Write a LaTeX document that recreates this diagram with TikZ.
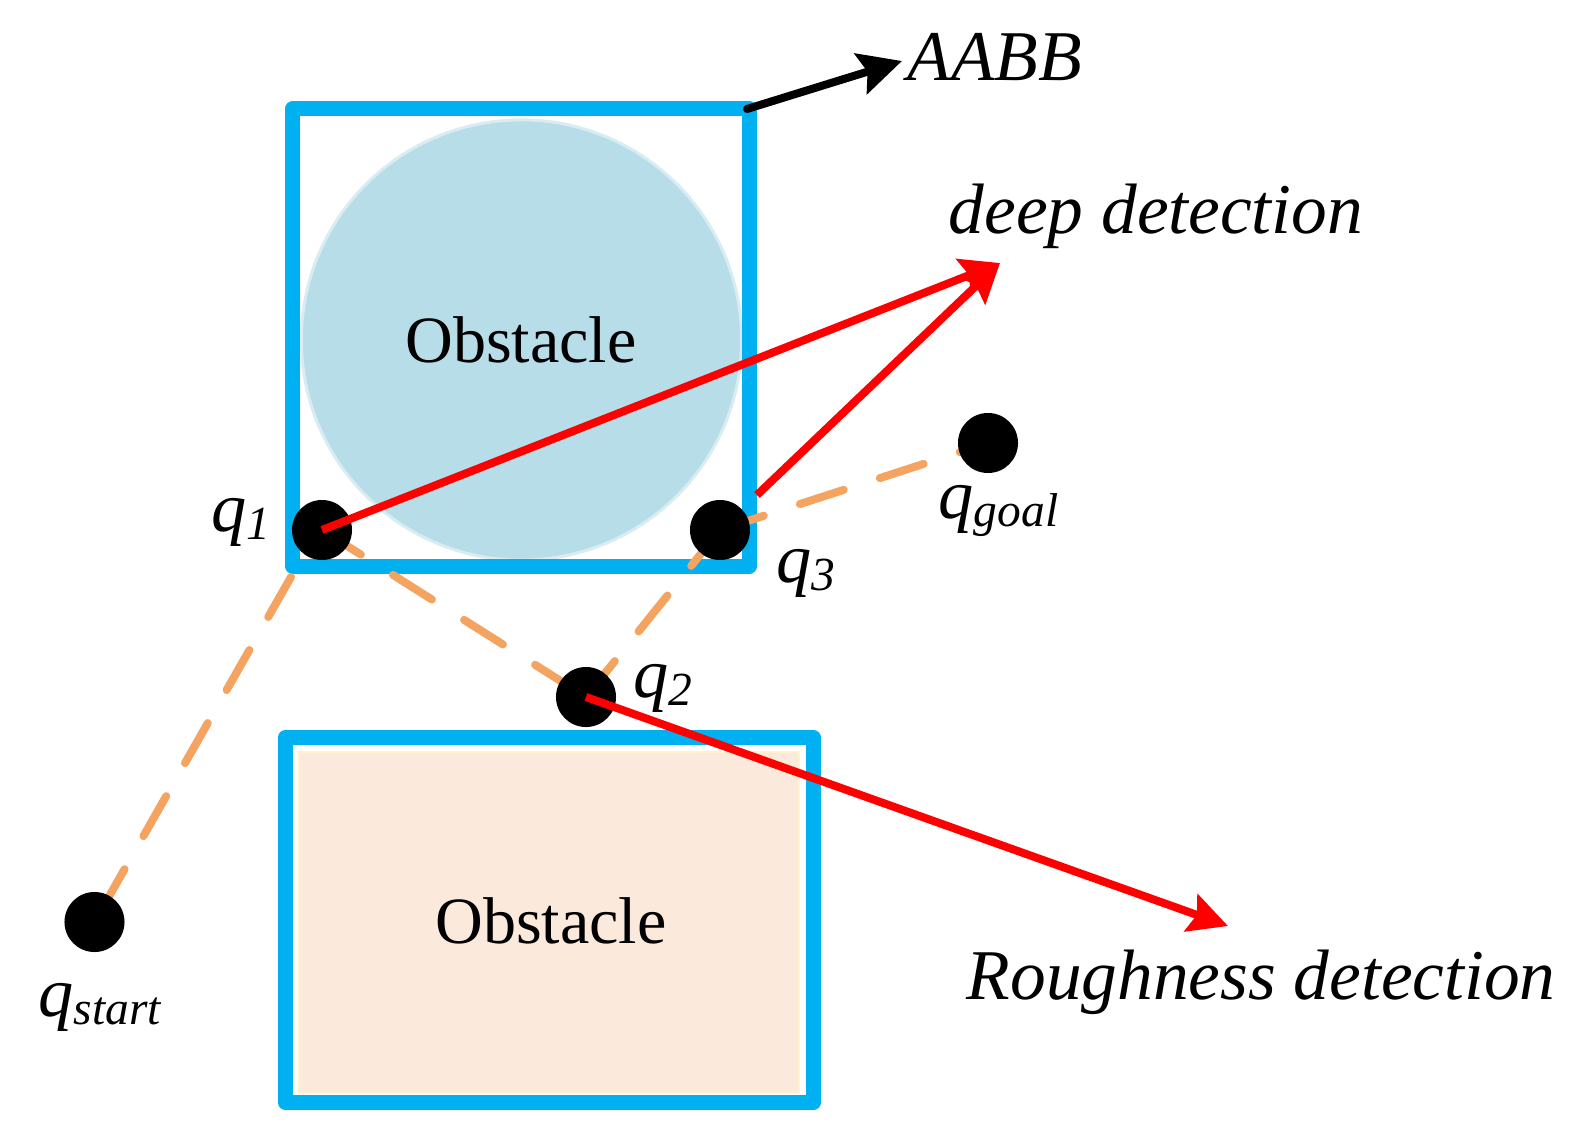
\documentclass[tikz,border=0pt]{standalone}
\usepackage{fontspec}
\setmainfont{Liberation Serif}
\usetikzlibrary{arrows.meta}
\definecolor{aabbblue}{RGB}{0,176,240}
\definecolor{circfill}{RGB}{183,221,232}
\definecolor{circedge}{RGB}{216,236,242}
\definecolor{boxfill}{RGB}{251,233,220}
\definecolor{boxedge}{RGB}{255,242,204}
\definecolor{pathorange}{RGB}{244,164,96}
\definecolor{arrowred}{RGB}{255,0,0}
\newcommand{\qlab}[1]{\textit{q}\raisebox{-2.5pt}{\fontsize{13.5}{13.5}\selectfont\textit{#1}}}
\begin{document}
\begin{tikzpicture}[x=0.01cm,y=-0.01cm,
  bigtext/.style={font=\fontsize{20.3}{24}\selectfont\itshape, inner sep=0pt, anchor=base west},
  obst/.style={font=\fontsize{18.8}{22}\selectfont, inner sep=0pt, anchor=base},
  qtext/.style={font=\fontsize{20}{24}\selectfont, inner sep=0pt, anchor=base west},
  dot/.style={circle, fill=black, minimum size=0.6cm, inner sep=0pt},
  aabbline/.style={draw=aabbblue, line width=0.15cm, line join=round, inner sep=0pt},
  dashpath/.style={draw=pathorange, line width=0.08cm, line cap=round, dash pattern=on 0.46cm off 0.38cm},
  redarrow/.style={draw=arrowred, line width=0.08cm, -{Stealth[length=0.39cm,width=0.39cm,inset=0.06cm]}},
  blackarrow/.style={draw=black, line width=0.08cm, line cap=round, -{Stealth[length=0.43cm,width=0.42cm,inset=0.07cm]}}]
\useasboundingbox (0,0) rectangle (1593,1142);

% obstacle shapes
\node[circle, minimum size=4.4cm, inner sep=0pt, fill=circfill, draw=circedge, line width=0.03cm] (circ) at (521.5,340) {};
\node[rectangle, minimum width=5.0cm, minimum height=3.41cm, inner sep=0pt, fill=boxfill, draw=boxedge, line width=0.02cm] (fill2) at (549,922.5) {};
\node[aabbline, rectangle, minimum width=4.56cm, minimum height=4.57cm] (aabb) at (521,337.5) {};
\node[aabbline, rectangle, minimum width=5.275cm, minimum height=3.65cm] (box2) at (549.25,920) {};

\node[obst] (obs1) at (521,362) {Obstacle};
\node[obst] (obs2) at (551,943) {Obstacle};

% path points
\coordinate (ps) at (94.5,922);
\coordinate (p1) at (322,530);
\coordinate (p2) at (586,697);
\coordinate (p3) at (720,530);
\coordinate (pg) at (988,443);
\coordinate (corner) at (291,577);

\draw[dashpath] (corner) -- (ps);
\draw[dashpath] (p1) -- (p2);
\draw[dashpath] (p2) -- (p3);
\draw[dashpath] (p3) -- (pg);

\node[dot] (qs) at (ps) {};
\node[dot] (q1) at (p1) {};
\node[dot] (q2) at (p2) {};
\node[dot] (q3) at (p3) {};
\node[dot] (qg) at (pg) {};

% arrows
\coordinate (deeptip) at (1000,263);
\coordinate (roughtip) at (1228,926);
\coordinate (aabbtip) at (902,61);
\coordinate (q3exit) at (757,495);
\coordinate (aabbcorner) at (747,109);

\draw[redarrow] (q1.center) -- (deeptip);
\draw[redarrow] (q3exit) -- (deeptip);
\draw[redarrow] (q2.center) -- (roughtip);
\draw[blackarrow] (aabbcorner) -- (aabbtip);

% labels
\node[bigtext] (laabb) at (907,80) {AABB};
\node[bigtext] (ldeep) at (948,233) {deep detection};
\node[bigtext] (lrough) at (966,999) {Roughness detection};

\node[qtext] (lq1) at (211,531) {\qlab{1}};
\node[qtext] (lq2) at (633,697) {\qlab{2}};
\node[qtext] (lq3) at (776,582) {\qlab{3}};
\node[qtext] (lqg) at (938,518) {\qlab{goal}};
\node[qtext] (lqs) at (38,1016) {\qlab{start}};
\end{tikzpicture}
\end{document}
